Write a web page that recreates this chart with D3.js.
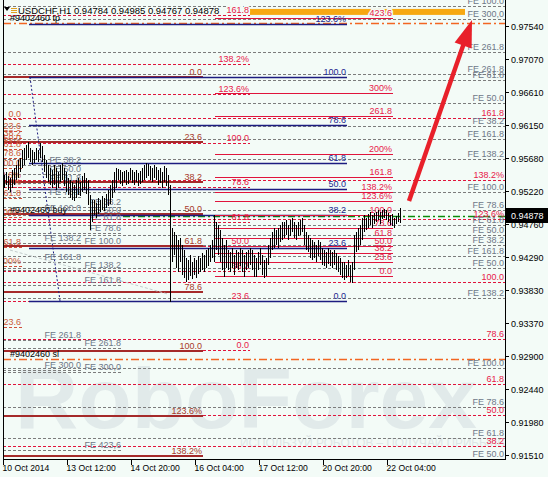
<!DOCTYPE html>
<html><head><meta charset="utf-8">
<script src="https://cdn.jsdelivr.net/npm/d3@7"></script>
<style>
html,body{margin:0;padding:0;background:#f3fbf7;}
svg{display:block;}
text{font-family:"Liberation Sans",Arial,sans-serif;}
</style>
</head><body>
<svg id="chart" width="548" height="477"></svg>
<script>
// ---------------- DATA ----------------
const symbolTitle = "USDCHF,H1 0.94784 0.94985 0.94767 0.94878";
const lastPrice = 0.94878;
const priceTicks = [0.97540,0.97070,0.96610,0.96150,0.95680,0.95220,0.94760,0.94290,0.93830,0.93370,0.92900,0.92440,0.91980,0.91510];
const timeTickBars = [0,32,64,96,128,160,192];
const timeTickLabels = ["10 Oct 2014","13 Oct 12:00","14 Oct 20:00","16 Oct 04:00","17 Oct 12:00","20 Oct 20:00","22 Oct 04:00"];

const barHigh = [
0.9545,0.9549,0.9543,0.9540,0.9552,0.9555,0.9559,0.9566,0.9569,0.9580,
0.9583,0.9587,0.9591,0.9583,0.9580,0.9577,0.9583,0.9580,0.9589,0.9585,
0.9573,0.9566,0.9559,0.9555,0.9552,0.9559,0.9555,0.9549,0.9559,0.9562,
0.9555,0.9549,0.9540,0.9538,0.9535,0.9531,0.9538,0.9540,0.9535,0.9543,
0.9548,0.9540,0.9538,0.9517,0.9509,0.9509,0.9505,0.9512,0.9509,0.9515,
0.9512,0.9518,0.9524,0.9531,0.9538,0.9549,0.9555,0.9553,0.9552,0.9549,
0.9550,0.9552,0.9549,0.9555,0.9552,0.9549,0.9552,0.9548,0.9550,0.9555,
0.9559,0.9562,0.9560,0.9557,0.9555,0.9559,0.9556,0.9552,0.9555,0.9549,
0.9557,0.9555,0.9545,0.9531,0.9470,0.9465,0.9460,0.9453,0.9456,0.9446,
0.9439,0.9428,0.9425,0.9432,0.9422,0.9428,0.9425,0.9431,0.9428,0.9435,
0.9432,0.9439,0.9442,0.9446,0.9453,0.9488,0.9479,0.9474,0.9467,0.9456,
0.9446,0.9453,0.9439,0.9436,0.9442,0.9432,0.9439,0.9436,0.9442,0.9439,
0.9432,0.9436,0.9439,0.9442,0.9439,0.9432,0.9428,0.9436,0.9442,0.9432,
0.9425,0.9428,0.9446,0.9456,0.9465,0.9470,0.9467,0.9470,0.9474,0.9479,
0.9479,0.9481,0.9474,0.9481,0.9484,0.9479,0.9474,0.9479,0.9481,0.9484,
0.9474,0.9465,0.9460,0.9456,0.9453,0.9451,0.9446,0.9453,0.9451,0.9442,
0.9439,0.9436,0.9442,0.9439,0.9436,0.9439,0.9435,0.9431,0.9428,0.9422,
0.9422,0.9418,0.9425,0.9418,0.9422,0.9460,0.9465,0.9470,0.9474,0.9484,
0.9488,0.9484,0.9490,0.9493,0.9488,0.9491,0.9493,0.9495,0.9493,0.9495,
0.9497,0.9495,0.9491,0.9488,0.9490,0.9484,0.9487,0.9491,0.94985];
const barLow = [
0.9526,0.9531,0.9524,0.9521,0.9526,0.9531,0.9538,0.9540,0.9549,0.9555,
0.9559,0.9566,0.9569,0.9563,0.9559,0.9562,0.9566,0.9563,0.9569,0.9563,
0.9549,0.9540,0.9535,0.9531,0.9526,0.9531,0.9524,0.9526,0.9535,0.9538,
0.9529,0.9521,0.9517,0.9512,0.9509,0.9508,0.9512,0.9517,0.9515,0.9521,
0.9524,0.9518,0.9502,0.9467,0.9479,0.9488,0.9484,0.9490,0.9493,0.9495,
0.9494,0.9498,0.9501,0.9504,0.9512,0.9521,0.9526,0.9538,0.9532,0.9529,
0.9535,0.9531,0.9532,0.9538,0.9533,0.9531,0.9535,0.9529,0.9532,0.9535,
0.9538,0.9540,0.9543,0.9538,0.9535,0.9540,0.9538,0.9531,0.9533,0.9526,
0.9535,0.9529,0.9517,0.9366,0.9422,0.9432,0.9414,0.9408,0.9422,0.9404,
0.9400,0.9394,0.9397,0.9403,0.9399,0.9404,0.9400,0.9406,0.9408,0.9411,
0.9408,0.9414,0.9417,0.9422,0.9428,0.9422,0.9439,0.9432,0.9422,0.9411,
0.9401,0.9414,0.9411,0.9408,0.9414,0.9404,0.9414,0.9411,0.9417,0.9408,
0.9401,0.9411,0.9414,0.9418,0.9411,0.9401,0.9401,0.9411,0.9418,0.9404,
0.9400,0.9403,0.9418,0.9428,0.9439,0.9442,0.9446,0.9442,0.9451,0.9453,
0.9456,0.9460,0.9453,0.9459,0.9465,0.9456,0.9453,0.9459,0.9460,0.9465,
0.9446,0.9439,0.9436,0.9428,0.9425,0.9428,0.9422,0.9431,0.9425,0.9418,
0.9417,0.9414,0.9420,0.9417,0.9414,0.9418,0.9411,0.9408,0.9404,0.9400,
0.9397,0.9400,0.9403,0.9394,0.9393,0.9411,0.9436,0.9439,0.9446,0.9453,
0.9465,0.9467,0.9470,0.9474,0.9470,0.9476,0.9479,0.9481,0.9476,0.9483,
0.9484,0.9481,0.9479,0.9474,0.9473,0.9470,0.9476,0.9479,0.94767];

// Fibonacci retracements (price at level 0 and level 100, bar span)
const fiboDarkRed = {kind:"darkred", p0:0.96823, p100:0.92972, from:-0.5, to:99.5, levels:[0,23.6,38.2,50,61.8,78.6,100,123.6,138.2]};
const fiboNavy    = {kind:"navy", p0:0.93675, p100:0.96823, from:12.5, to:171.5, levels:[0,23.6,38.2,50,61.8,78.6,100,123.6]};
const fiboNavyDiag = [[13,0.96823],[28,0.93675]];
const fiboRed     = {kind:"red", p0:0.94026, p100:0.94883, from:105.5, to:194.5, levels:[0,23.6,38.2,50,61.8,78.6,100,123.6,138.2,161.8,200,261.8,300,423.6]};
const fiboRedDashA = {kind:"reddash", p0:0.92986, p100:0.95896, from:-0.5, to:123, levels:[0,23.6,38.2,50,61.8,78.6,100,123.6,138.2,161.8]};
const fiboRedDashB = {kind:"reddash", p0:0.90203, p100:0.93942, from:-0.5, to:250.5, levels:[38.2,50,61.8,78.6,100,123.6,138.2,161.8]};
const fiboLeft    = {kind:"brown", p0:0.96233, p100:0.95544, from:-30, to:9, levels:[0,23.6,38.2,50,61.8,78.6,100,123.6,138.2,161.8,200,261.8,300,423.6]};

// Fibonacci expansions (FE)
const feLeft1  = {kind:"fe", p0:0.96008, p100:0.94907, from:-0.5, to:39,  comma:false, levels:[38.2,50,61.8,78.6,100,138.2,161.8,261.8,300]};
const feLeft2  = {kind:"fe", p0:0.95333, p100:0.94446, from:-0.5, to:59,  comma:true,  levels:[38.2,50,61.8,78.6,100,138.2,161.8,261.8,300,423.6]};
const feRight1 = {kind:"fe", p0:0.90175, p100:0.92733, from:-0.5, to:250.5, comma:false, levels:[50,61.8,78.6,100,138.2,161.8,261.8]};
const feRight2 = {kind:"fe", p0:0.93991, p100:0.95207, from:-0.5, to:250.5, comma:true,  levels:[38.2,50,61.8,78.6,100,138.2,161.8,261.8,300]};
const feRight3 = {kind:"fe", p0:0.95094, p100:0.97821, from:-0.5, to:250.5, comma:false, levels:[38.2,50,61.8,100]};
const feRightExtraLevels = [50];
const feRightExtraPrices = [0.94139];

// order #9402460
const orderId = "#9402460";
const takeProfit = 0.97582;
const stopLoss = 0.92859;
const entryPrice = 0.94865;
const entryFromBar = 59.5;

// other drawn objects
const orangeBand = {from:123, to:230.5, pHigh:0.97780, pLow:0.97696};
const trendLines = [[[3,0.94391],[81.5,0.93776]]];
const arrowPts = [[202.5,0.95080],[234,0.97624]];

const watermark = "RoboForex";
const slogan = "ИСПОЛЬЗУЙ РОБОТОВ – ПОЛУЧАЙ ПРИБЫЛЬ";

// ---------------- STYLES ----------------
const styles = {
  darkred:{stroke:"#a52a2a", width:2,   dash:null,   text:"#a83a2a"},
  navy:   {stroke:"#1c1c80", width:1.5, dash:null,   text:"#1c2890"},
  red:    {stroke:"#e0143c", width:1,   dash:null,   text:"#e8204a"},
  reddash:{stroke:"#e0143c", width:1.2, dash:"3,2",  text:"#e8204a"},
  brown:  {stroke:"#d0503a", width:1,   dash:"3,2",  text:"#cc5a3a"},
  fe:     {stroke:"#7c7c7c", width:1,   dash:"3,2",  text:"#6e7888"}
};
const BG = "#f3fbf7";

// ---------------- SCALES ----------------
const svg = d3.select("#chart");
const x = d3.scaleLinear().domain([0, 250.5]).range([4, 505]);
const y = d3.scaleLinear().domain([0.91510, 0.97540]).range([455, 26]);
const plotL = 3, plotR = 505, plotB = 459;

svg.append("rect").attr("width",548).attr("height",477).attr("fill",BG);
svg.append("defs").append("clipPath").attr("id","plotclip")
  .append("rect").attr("x",plotL).attr("y",0).attr("width",plotR-plotL).attr("height",plotB);

const plot = svg.append("g").attr("clip-path","url(#plotclip)");

// watermark
plot.append("text").attr("x",15).attr("y",428).attr("font-size",86).attr("font-weight","bold")
  .attr("fill","#e1eaea").attr("textLength",462).attr("lengthAdjust","spacingAndGlyphs").text(watermark);
plot.append("text").attr("x",240).attr("y",447).attr("font-size",12)
  .attr("fill","#dde6e6").attr("textLength",265).attr("lengthAdjust","spacingAndGlyphs").text(slogan);

// orange band
plot.append("rect").attr("x",x(orangeBand.from)).attr("width",x(orangeBand.to)-x(orangeBand.from))
  .attr("y",y(orangeBand.pHigh)).attr("height",y(orangeBand.pLow)-y(orangeBand.pHigh)).attr("fill","#f7a812");

const lineLayer = plot.append("g");
const labelLayer = plot.append("g").attr("font-size",9);

const crisp = (v,w)=> (w%2===1 ? Math.round(v)+0.5 : Math.round(v));
const fmtFibo = L => ([123.6,138.2,200,300].includes(L) ? (L%1===0? L : L.toFixed(1))+"%" : L.toFixed(1));
const fmtFE = (L,o) => "FE " + (o.comma && (L===300||L===423.6) ? L.toFixed(1).replace(".",",") : L.toFixed(1));

function drawLine(p, from, to, st){
  const yy = crisp(y(p), st.width===2?2:1);
  const ln = lineLayer.append("line").attr("x1",x(from)).attr("x2",x(to)).attr("y1",yy).attr("y2",yy)
    .attr("stroke",st.stroke).attr("stroke-width",st.width);
  if(st.dash) ln.attr("stroke-dasharray",st.dash);
}
function drawLabel(p, to, st, txt){
  const t = labelLayer.append("text").attr("x",x(to)-1).attr("y",Math.round(y(p))-2)
    .attr("text-anchor","end").attr("fill",st.text).text(txt);
  if(p > orangeBand.pLow - 0.0004){
    t.attr("stroke",BG).attr("stroke-width",3).attr("paint-order","stroke");
  }
}
function drawLevels(o, fmt){
  const st = styles[o.kind];
  o.levels.forEach(L=>{
    const p = o.p0 + (o.p100-o.p0)*L/100;
    drawLine(p, o.from, o.to, st);
    drawLabel(p, o.to, st, fmt(L,o));
  });
}

[feRight1,feRight2,feRight3,feLeft1,feLeft2].forEach(o=>drawLevels(o,fmtFE));
feRightExtraLevels.forEach((L,k)=>{
  drawLine(feRightExtraPrices[k], -0.5, 250.5, styles.fe);
  drawLabel(feRightExtraPrices[k], 250.5, styles.fe, "FE "+L.toFixed(1));
});
[fiboLeft,fiboRedDashA,fiboRedDashB].forEach(o=>drawLevels(o,fmtFibo));

// order lines
[[takeProfit,"tp"],[stopLoss,"sl"]].forEach(([p,k])=>{
  lineLayer.append("line").attr("x1",plotL).attr("x2",plotR).attr("y1",crisp(y(p),1)).attr("y2",crisp(y(p),1))
    .attr("stroke","#f26522").attr("stroke-width",1.3).attr("stroke-dasharray","8,3,2,3");
  labelLayer.append("text").attr("x",10).attr("y",Math.round(y(p))-2).attr("fill","#000").text(orderId+" "+k);
});
lineLayer.append("line").attr("x1",x(entryFromBar)).attr("x2",plotR).attr("y1",crisp(y(entryPrice),1)).attr("y2",crisp(y(entryPrice),1))
  .attr("stroke","#0a8a0a").attr("stroke-width",1.5).attr("stroke-dasharray","7,3,2,3");
labelLayer.append("text").attr("x",10).attr("y",Math.round(y(entryPrice))-3).attr("fill","#000").text(orderId+" buy");

[fiboDarkRed,fiboNavy,fiboRed].forEach(o=>drawLevels(o,fmtFibo));

// fibo diagonal + trend lines
lineLayer.append("line").attr("x1",x(fiboNavyDiag[0][0])).attr("y1",y(fiboNavyDiag[0][1]))
  .attr("x2",x(fiboNavyDiag[1][0])).attr("y2",y(fiboNavyDiag[1][1]))
  .attr("stroke","#1c1c80").attr("stroke-width",1).attr("stroke-dasharray","2,2");
trendLines.forEach(t=>{
  lineLayer.append("line").attr("x1",x(t[0][0])).attr("y1",y(t[0][1])).attr("x2",x(t[1][0])).attr("y2",y(t[1][1]))
    .attr("stroke","#c3cccc").attr("stroke-width",1).attr("stroke-dasharray","3,2");
});

// bars
plot.append("g").selectAll("line").data(d3.range(barHigh.length)).join("line")
  .attr("x1",i=>Math.round(x(i))+0.5).attr("x2",i=>Math.round(x(i))+0.5)
  .attr("y1",i=>Math.round(y(barHigh[i])))
  .attr("y2",i=>Math.max(Math.round(y(barLow[i])),Math.round(y(barHigh[i]))+1))
  .attr("stroke","#000").attr("stroke-width",1);

// arrow
{
  const x0=x(arrowPts[0][0]), y0=y(arrowPts[0][1]), x1=x(arrowPts[1][0]), y1=y(arrowPts[1][1]);
  const dx=x1-x0, dy=y1-y0, len=Math.hypot(dx,dy), ux=dx/len, uy=dy/len;
  const hl=27, hw=9;
  const bx=x1-ux*hl, by=y1-uy*hl;
  plot.append("line").attr("x1",x0).attr("y1",y0).attr("x2",bx+ux*2).attr("y2",by+uy*2)
    .attr("stroke","#e8202a").attr("stroke-width",4.5);
  plot.append("path").attr("d",`M${x1},${y1}L${bx-uy*hw},${by+ux*hw}L${bx+uy*hw},${by-ux*hw}Z`).attr("fill","#e8202a");
}

// ---------------- AXES ----------------
const axis = svg.append("g");
axis.append("line").attr("x1",plotL+0.5).attr("x2",plotL+0.5).attr("y1",0).attr("y2",plotB).attr("stroke","#000");
axis.append("line").attr("x1",plotR+0.5).attr("x2",plotR+0.5).attr("y1",0).attr("y2",plotB+0.5).attr("stroke","#000");
axis.append("line").attr("x1",plotL).attr("x2",plotR+1).attr("y1",plotB+0.5).attr("y2",plotB+0.5).attr("stroke","#000");

priceTicks.forEach(p=>{
  const yy=Math.round(y(p));
  axis.append("line").attr("x1",plotR).attr("x2",plotR+4).attr("y1",yy+0.5).attr("y2",yy+0.5).attr("stroke","#000");
  axis.append("text").attr("x",511).attr("y",yy+3.5).attr("font-size",9).attr("fill","#000").text(p.toFixed(5));
});
timeTickBars.forEach((b,k)=>{
  const xx=Math.round(x(b))-0.5;
  axis.append("line").attr("x1",xx).attr("x2",xx).attr("y1",plotB).attr("y2",plotB+6).attr("stroke","#000");
  axis.append("text").attr("x",xx-1).attr("y",471).attr("font-size",8.6).attr("fill","#000").text(timeTickLabels[k]);
});

// last price box
{
  const yy=y(lastPrice);
  axis.append("rect").attr("x",506).attr("y",Math.round(yy)-7).attr("width",42).attr("height",15).attr("fill","#000");
  axis.append("text").attr("x",511).attr("y",Math.round(yy)+4).attr("font-size",9).attr("fill","#fff").text(lastPrice.toFixed(5));
}

// title
axis.append("path").attr("d","M4,7L10,7L7,11Z").attr("fill","#000");
[8,10,12].forEach(v=>axis.append("line").attr("x1",11).attr("x2",17).attr("y1",v+0.5).attr("y2",v+0.5).attr("stroke","#e0a020"));
axis.append("text").attr("x",18).attr("y",14).attr("font-size",9.5).attr("fill","#000").text(symbolTitle);
</script>
</body></html>
